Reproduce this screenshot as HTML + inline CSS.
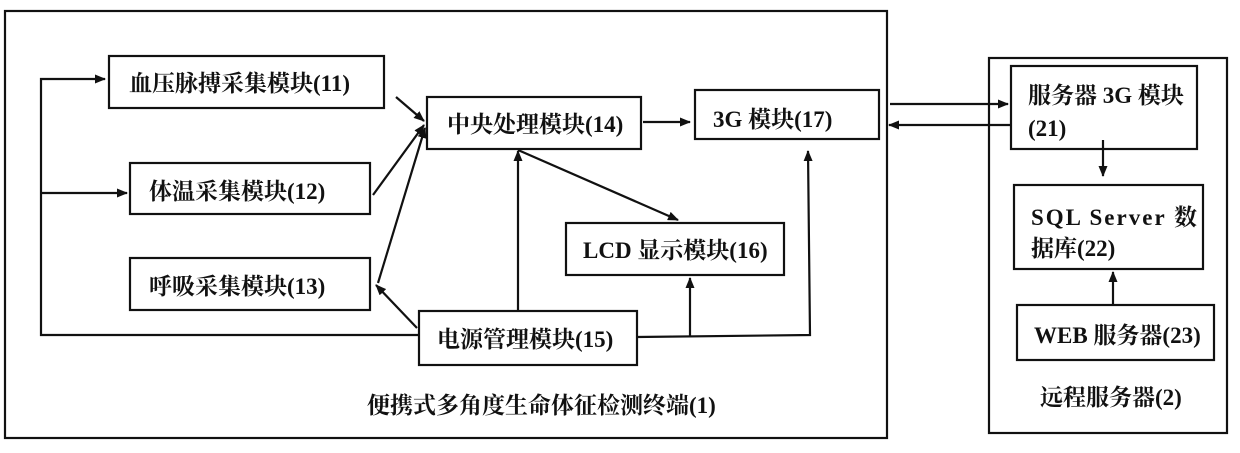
<!DOCTYPE html>
<html><head><meta charset="utf-8"><style>
body{margin:0;width:1240px;height:448px;background:#fff;overflow:hidden}
svg text{font-family:"Liberation Serif","Noto Serif CJK SC",serif;font-size:23px;font-weight:bold;fill:#111}
</style></head><body>
<svg width="1240" height="448" viewBox="0 0 1240 448">
<defs><marker id="a" markerWidth="11" markerHeight="9" refX="10" refY="4.5" orient="auto" markerUnits="userSpaceOnUse"><path d="M0,0 L11,4.5 L0,9 Z" fill="#111"/></marker></defs>
<g fill="none" stroke="#111" stroke-width="2.2">
<rect x="5" y="11" width="882" height="427"/>
<rect x="109" y="56" width="275" height="52"/>
<rect x="427" y="97" width="214" height="52"/>
<rect x="695" y="90" width="184" height="49"/>
<rect x="130" y="163" width="240" height="51"/>
<rect x="130" y="258" width="240" height="52"/>
<rect x="419" y="311" width="218" height="54"/>
<rect x="566" y="223" width="218" height="52"/>
<rect x="989" y="58" width="238" height="375"/>
<rect x="1011" y="66" width="186" height="83"/>
<rect x="1014" y="185" width="189" height="84"/>
<rect x="1017" y="305" width="197" height="55"/>
</g>
<g stroke="#111" stroke-width="2.2" fill="none" marker-end="url(#a)">
<path d="M419,335 L41,335 L41,79 L105,79"/>
<path d="M41,193 L127,193"/>
<path d="M396,97 L424,121"/>
<path d="M373,195 L424,125"/>
<path d="M378,283 L425,128"/>
<path d="M417,328 L376,285"/>
<path d="M518,311 L518,151"/>
<path d="M518,150 L678,220"/>
<path d="M643,122 L690,122"/>
<path d="M637,337 L810,335 L808,151"/>
<path d="M690,337 L690,278"/>
<path d="M890,104 L1008,104"/>
<path d="M1011,125 L889,125"/>
<path d="M1103,140 L1103,176"/>
<path d="M1113,305 L1113,272"/>
</g>
<text x="129" y="91">血压脉搏采集模块(11)</text>
<text x="447" y="132">中央处理模块(14)</text>
<text x="713" y="127">3G 模块(17)</text>
<text x="149" y="199">体温采集模块(12)</text>
<text x="149" y="294">呼吸采集模块(13)</text>
<text x="437" y="347">电源管理模块(15)</text>
<text x="583" y="258">LCD 显示模块(16)</text>
<text x="1028" y="103">服务器 3G 模块</text>
<text x="1028" y="136">(21)</text>
<text x="1031" y="225" textLength="166" lengthAdjust="spacing">SQL Server 数</text>
<text x="1031" y="256">据库(22)</text>
<text x="1034" y="343">WEB 服务器(23)</text>
<text x="367" y="413">便携式多角度生命体征检测终端(1)</text>
<text x="1040" y="405">远程服务器(2)</text>
</svg>
</body></html>
